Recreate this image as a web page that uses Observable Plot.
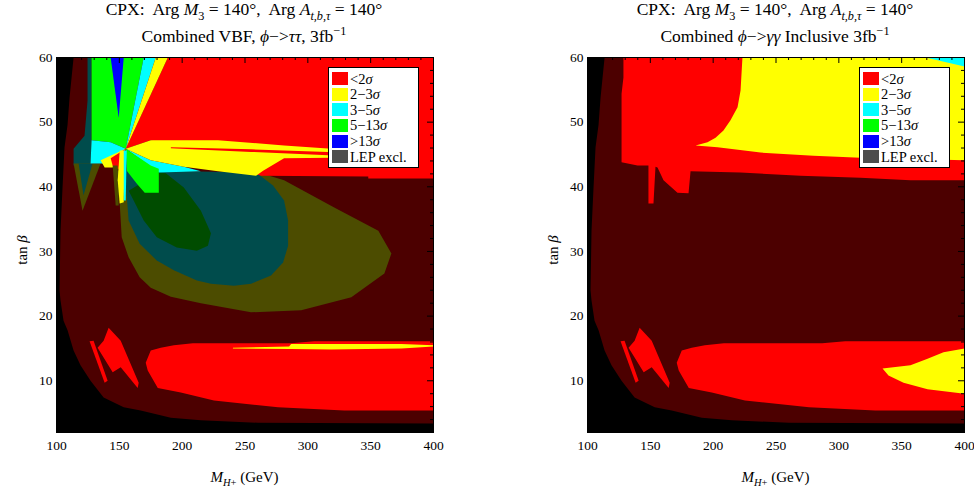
<!DOCTYPE html>
<html><head><meta charset="utf-8">
<script src="https://cdn.jsdelivr.net/npm/d3@7"></script>
<script src="https://cdn.jsdelivr.net/npm/@observablehq/plot@0.6"></script>
<style>
body{margin:0;background:#fff;font-family:"Liberation Serif","Times New Roman",serif;color:#000;}
#wrap{position:relative;width:974px;height:489px;overflow:hidden;}
.panel{position:absolute;top:0;width:443px;height:489px;}
.t1,.t2{position:absolute;left:0;width:488px;text-align:center;font-size:17.5px;line-height:1;white-space:nowrap;}
.t1{top:1px;} .t2{top:28px;}
sub,sup{font-size:70%;line-height:0;}
.plot{position:absolute;left:0;top:50px;}
.xlabel{position:absolute;left:56px;width:377px;top:469px;text-align:center;font-size:15px;white-space:nowrap;}
.ylabel{position:absolute;left:22px;top:250px;transform:translate(-50%,-50%) rotate(-90deg);font-size:15px;white-space:nowrap;}
.legend{position:absolute;left:328px;top:67px;width:91px;height:101px;background:#fff;border:1px solid #000;box-sizing:border-box;padding:3px 0 0 3px;}
.row{height:15.6px;display:flex;align-items:center;font-size:14.5px;line-height:1;}
.sw{width:16px;height:13px;margin-right:2px;flex:none;}
</style></head>
<body><div id="wrap"></div>
<script>
// ---- axes ----
const xTicks = [100, 150, 200, 250, 300, 350, 400];
const yTicks = [10, 20, 30, 40, 50, 60];
const xMinorTicks = d3.range(100, 401, 10);
const yMinorTicks = d3.range(2, 61, 2);
const xDomain = [100, 400];
const yDomain = [2, 60];

// ---- legend ----
const legendLabels = ["<2σ", "2−3σ", "3−5σ", "5−13σ", ">13σ", "LEP excl."];
const legendColors = ["#ff0000", "#ffff00", "#00ffff", "#00ff00", "#0000ff", "#4d4d4d"];

// ---- region boundaries (M_H+ [GeV], tan beta) ----
// LEP-excluded region over the scanned parameter space (both panels)
const lepExcl = [[113.6,60],[112.0,56.9],[110.4,53.8],[108.8,49.6],[106.4,46.1],[104.8,39.9],[103.2,33.2],[102.4,24.0],[103.2,22.4],[105.6,19.3],[108.8,17.8],[113.6,14.7],[119.1,12.4],[127.1,10.0],[137.5,7.4],[153.5,5.9],[167.0,5.4],[191.0,4.3],[214.9,3.9],[260.4,3.5],[400,3.4],[400,60]];
// allowed low tan beta islands (both panels)
const lowRedBig = [[171.0,12.8],[175.0,14.7],[183.0,15.1],[193.4,15.5],[208.5,15.8],[286.7,15.8],[305.1,16.1],[400,16.1],[400,5.4],[329.0,5.4],[276.3,5.9],[225.3,6.95],[198.9,8.2],[180.6,8.9],[172.6,11.6]];
const lowRedStrip = [[126.3,16.1],[129.5,16.2],[140.7,10.0],[138.3,9.7]];
const lowRedTri = [[141.5,18.2],[151.1,16.2],[165.4,9.7],[164.6,8.9],[151.1,12.1],[144.7,11.3],[132.7,15.1],[137.5,16.2]];

// VBF, phi -> tau tau
const vbfOlive = [[145.5,42.5],[262.8,42.1],[281.1,41.0],[321.0,36.8],[356.1,33.2],[366.5,29.7],[360.9,26.6],[334.6,22.9],[294.7,20.9],[254.8,20.6],[214.9,22.0],[191.0,23.0],[175.0,24.4],[166.2,26.0],[157.4,29.1],[151.9,32.2],[150.3,37.4],[147.9,40.2]];
const vbfTeal = [[154.3,42.5],[181.4,42.5],[258.8,42.2],[272.3,40.2],[281.1,37.9],[284.3,34.8],[284.3,30.9],[280.3,28.3],[270.7,26.3],[254.8,25.0],[241.2,24.7],[222.9,25.0],[211.7,25.5],[193.4,27.1],[179.8,28.6],[166.2,31.2],[157.4,34.8]];
const vbfDarkGreen = [[157.4,39.4],[181.4,42.2],[187.0,42.1],[201.3,39.9],[214.9,36.3],[222.9,32.8],[220.5,30.9],[211.7,30.1],[195.7,30.6],[179.8,32.2],[169.4,34.8],[161.4,37.9]];
const vbfTealLeft = [[124.7,60],[127.9,60],[127.9,47.2],[127.1,43.3],[113.6,43.3],[113.6,45.9],[122.3,47.9],[124.7,53.3]];
const vbfOliveV = [[113.6,43.6],[135.1,43.6],[120.7,36.3]];
const vbfTealV = [[117.6,43.6],[128.7,43.6],[121.5,38.7]];
const vbfRedTop = [[155.1,45.9],[188.6,60],[400,60],[400,41.3],[348.1,41.3],[348.1,41.6],[262.8,41.7],[175.0,47.2]];
const vbfGreenTop = [[155.1,45.9],[143.1,46.9],[127.9,47.2],[127.9,60],[169.4,60]];
const vbfBlue = [[143.1,60],[153.5,60],[149.5,50.7]];
const vbfCyanTop = [[155.1,45.9],[169.4,60],[179.0,60]];
const vbfYellowTop = [[155.1,45.9],[179.0,60],[188.6,60]];
const vbfCyanLeft = [[155.1,45.9],[143.1,46.9],[127.9,47.2],[127.1,43.6],[148.7,43.6],[152.7,45.3]];
const vbfYellowWedge = [[155.1,45.9],[135.1,44.1],[138.3,43.0],[144.7,43.0]];
const vbfRedWedge = [[155.1,45.9],[143.1,44.4],[145.5,42.7],[150.3,42.8]];
const vbfCyanRight = [[155.1,45.9],[175.0,44.1],[201.3,43.1],[214.9,42.4],[181.4,42.2]];
const vbfYellowBand = [[155.1,45.9],[175.0,47.2],[228.5,47.2],[281.1,46.4],[318.6,45.9],[318.6,44.5],[281.1,44.4],[264.4,42.5],[258.8,41.7],[228.5,42.4],[201.3,43.1],[175.0,44.1]];
const vbfRedSliver = [[191.0,46.1],[254.8,45.8],[316.2,45.4],[316.2,44.9],[254.8,45.4],[191.0,45.95]];
const vbfGreenLow = [[155.1,45.9],[175.0,43.3],[181.4,42.8],[181.4,39.1],[170.2,39.1],[163.8,40.5],[155.9,42.5]];
const vbfOliveStrip = [[144.7,43.3],[148.7,43.3],[149.5,37.1],[147.1,37.1]];
const vbfYellowStrip = [[150.3,45.6],[154.3,45.6],[153.5,37.6],[150.3,37.4],[148.7,41.0]];
const vbfCyanStrip = [[153.5,45.6],[155.9,45.6],[155.1,37.9],[153.5,37.9]];
const vbfYellowStreak = [[240.4,15.1],[285.1,15.3],[286.7,15.7],[374.5,15.7],[400,15.5],[400,15.3],[374.5,15.0],[318.6,14.85],[286.7,14.9],[240.4,15.0]];

// inclusive phi -> gamma gamma
const aaRedTop = [[128.6,60],[128.6,56.9],[127.1,54.4],[127.1,43.8],[139.8,43.3],[148.5,43.3],[148.5,37.4],[152.5,37.4],[154.1,43.1],[155.7,43.0],[160.5,41.0],[171.6,39.1],[180.4,39.0],[182.0,42.4],[221.8,42.2],[269.5,41.7],[317.3,41.4],[357.0,41.0],[400,41.0],[400,60]];
const aaYellowTop = [[223.3,60],[221.8,54.9],[219.4,52.3],[213.8,50.3],[208.2,48.7],[201.9,47.6],[195.5,46.9],[186.0,46.4],[203.5,46.1],[237.7,45.3],[279.9,44.8],[317.3,44.5],[400,44.1],[400,60]];
const aaCyanCorner = [[369.0,60],[400,60],[400,58.6]];
const aaYellowBlob = [[334.8,11.9],[357.0,12.4],[370.6,13.4],[383.3,14.4],[400,15.0],[400,8.0],[370.6,8.7],[351.5,9.7],[339.5,10.8]];

// ---- colours ----
const RED = "#ff0000", YEL = "#ffff00", CYA = "#00ffff", GRN = "#00ff00", BLU = "#0000ff";
const DRED = "#4c0000", OLV = "#4c4c00", TEAL = "#004c4c", DGRN = "#004c00";

const layersVBF = [
  [lepExcl, DRED], [vbfOlive, OLV], [vbfTeal, TEAL], [vbfDarkGreen, DGRN],
  [vbfTealLeft, TEAL], [vbfOliveV, OLV], [vbfTealV, TEAL],
  [vbfRedTop, RED], [vbfGreenTop, GRN], [vbfBlue, BLU], [vbfCyanTop, CYA], [vbfYellowTop, YEL],
  [vbfCyanLeft, CYA], [vbfYellowWedge, YEL], [vbfRedWedge, RED],
  [vbfCyanRight, CYA], [vbfYellowBand, YEL], [vbfRedSliver, RED], [vbfGreenLow, GRN],
  [vbfOliveStrip, OLV], [vbfYellowStrip, YEL], [vbfCyanStrip, CYA],
  [lowRedBig, RED], [lowRedStrip, RED], [lowRedTri, RED], [vbfYellowStreak, YEL]
];
const layersAA = [
  [lepExcl, DRED], [aaRedTop, RED], [aaYellowTop, YEL], [aaCyanCorner, CYA],
  [lowRedBig, RED], [lowRedStrip, RED], [lowRedTri, RED], [aaYellowBlob, YEL]
];

const W = 443, H = 407, MT = 7, MB = 25, ML = 56, MR = 10;
const FW = W - ML - MR, FH = H - MT - MB;

function makePlot(layers) {
  const marks = [Plot.frame({fill: "black"})];
  for (const [poly, color] of layers) {
    marks.push(Plot.line(poly, {x: d => d[0], y: d => d[1], curve: "linear-closed", fill: color, stroke: "none"}));
  }
  const isMajorX = v => xTicks.includes(v), isMajorY = v => yTicks.includes(v);
  marks.push(
    Plot.axisX({anchor: "bottom", ticks: xTicks, tickSize: 0, tickPadding: 8, label: null}),
    Plot.axisY({anchor: "left", ticks: yTicks, tickSize: 0, tickPadding: 4, label: null}),
    // inward frame ticks on the top and right edges
    Plot.ruleX(xMinorTicks.filter(v => !isMajorX(v)), {x: d => d, insetBottom: FH - 3, stroke: "black"}),
    Plot.ruleX(xTicks, {x: d => d, insetBottom: FH - 6, stroke: "black"}),
    Plot.ruleY(yMinorTicks.filter(v => !isMajorY(v)), {y: d => d, insetLeft: FW - 3, stroke: "black"}),
    Plot.ruleY(yTicks, {y: d => d, insetLeft: FW - 6, stroke: "black"}),
    Plot.frame({stroke: "black"})
  );
  return Plot.plot({
    width: W, height: H,
    marginTop: MT, marginBottom: MB, marginLeft: ML, marginRight: MR,
    x: {domain: xDomain}, y: {domain: yDomain},
    style: {fontFamily: "Liberation Serif, serif", fontSize: "13.5px", background: "transparent", color: "black", overflow: "visible"},
    marks
  });
}

function legendHTML() {
  return legendLabels.map((l, i) =>
    `<div class="row"><div class="sw" style="background:${legendColors[i]}"></div><span>${l.replace("<", "&lt;").replace(">", "&gt;").replace("σ", "<i>σ</i>")}</span></div>`
  ).join("");
}

const titleTop = `CPX:&nbsp; Arg <i>M</i><sub>3</sub> = 140°,&nbsp; Arg <i>A</i><sub><i>t,b,τ</i></sub> = 140°`;
const subtitles = [
  `Combined VBF, <i>ϕ</i>−&gt;<i>ττ</i>, 3fb<sup>−1</sup>`,
  `Combined <i>ϕ</i>−&gt;<i>γγ</i> Inclusive 3fb<sup>−1</sup>`
];
const panels = [layersVBF, layersAA];
const offsets = [0, 531];
const wrap = document.getElementById("wrap");
panels.forEach((layers, k) => {
  const p = document.createElement("div");
  p.className = "panel";
  p.style.left = offsets[k] + "px";
  p.innerHTML = `<div class="t1">${titleTop}</div><div class="t2">${subtitles[k]}</div>
    <div class="ylabel">tan <i>β</i></div>
    <div class="xlabel"><i>M</i><sub><i>H</i>+</sub> (GeV)</div>`;
  const plotDiv = document.createElement("div");
  plotDiv.className = "plot";
  plotDiv.appendChild(makePlot(layers));
  p.appendChild(plotDiv);
  const lg = document.createElement("div");
  lg.className = "legend";
  lg.innerHTML = legendHTML();
  p.appendChild(lg);
  wrap.appendChild(p);
});
</script></body></html>
